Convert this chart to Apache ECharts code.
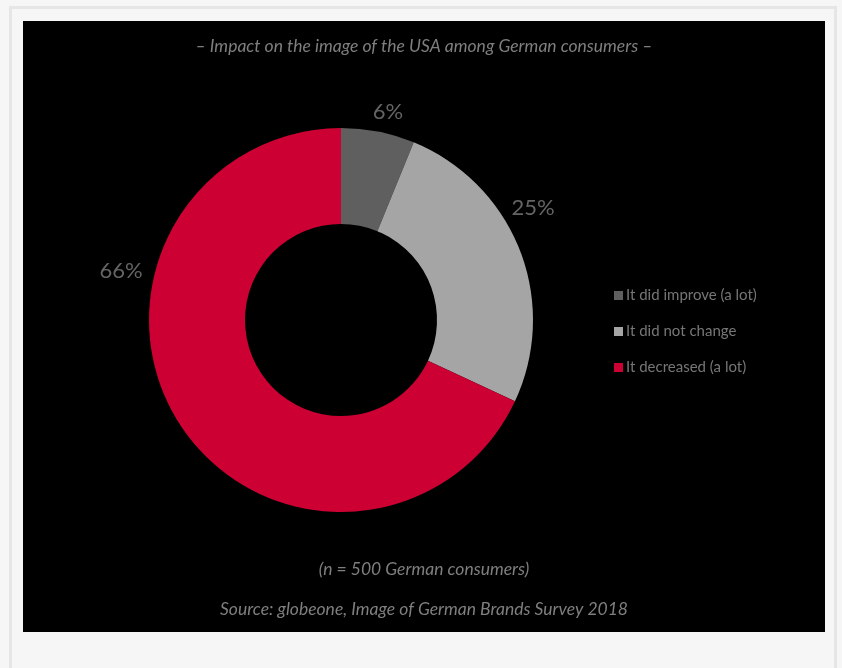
<!DOCTYPE html>
<html>
<head>
<meta charset="utf-8">
<script src="https://cdn.jsdelivr.net/npm/echarts@6/dist/echarts.min.js"></script>
<style>
    html, body { margin: 0; padding: 0; background: #f6f6f6; }
    #frame {
        position: absolute; left: 9px; top: 6px; width: 828px; height: 680px;
        border-left: 3px solid #e6e6e6; border-top: 3px solid #e6e6e6; border-right: 3px solid #e6e6e6;
        box-sizing: border-box;
    }
    #chart {
        position: absolute; left: 23px; top: 21px; width: 802px; height: 611px;
        background: #000;
    }
</style>
</head>
<body>
<div id="frame"></div>
<div id="chart"></div>
<script>
const categories = ['It did improve (a lot)', 'It did not change', 'It decreased (a lot)'];
const shares = [6, 25, 66];
const colors = ['#5f5f5f', '#a5a5a5', '#cc0033'];

const center = [318, 299];
// label placement relative to the pie centre, as in the original
const labelOffsets = [[47, -208], [192, -112], [-220, -49]];

const noteStyle = { color: '#7f7f7f', fontSize: 17.5, fontStyle: 'italic', fontWeight: 'normal', fontFamily: 'Lato' };

let option = {
    backgroundColor: '#000',
    title: [
        {
            text: '\u2013 Impact on the image of the USA among German consumers \u2013',
            left: 'center',
            top: 11,
            textStyle: noteStyle,
        },
        {
            text: '(n = 500 German consumers)',
            left: 'center',
            top: 534,
            textStyle: noteStyle,
        },
        {
            text: 'Source: globeone, Image of German Brands Survey 2018',
            left: 'center',
            top: 574,
            textStyle: noteStyle,
        },
    ],
    legend: {
        orient: 'vertical',
        left: 586,
        top: 262,
        itemWidth: 9,
        itemHeight: 9,
        itemGap: 21,
        icon: 'rect',
        textStyle: { color: '#767676', fontSize: 15, fontFamily: 'Lato', padding: [0, 0, 0, -2] },
        data: categories,
    },
    series: [
        {
            type: 'pie',
            center: center,
            radius: [96, 192],
            startAngle: 90,
            clockwise: true,
            avoidLabelOverlap: false,
            silent: true,
            label: {
                show: true,
                position: 'outside',
                formatter: '{c}%',
                color: '#646464',
                fontSize: 22,
                fontFamily: 'Lato',
            },
            labelLine: { show: false },
            labelLayout: function (params) {
                const o = labelOffsets[params.dataIndex];
                return {
                    x: center[0] + o[0],
                    y: center[1] + o[1],
                    align: 'center',
                    verticalAlign: 'middle',
                };
            },
            itemStyle: { borderWidth: 0 },
            data: categories.map((name, i) => ({
                name: name,
                value: shares[i],
                itemStyle: { color: colors[i] },
            })),
        },
    ],
};

let chart = echarts.init(document.getElementById('chart'));
chart.setOption(option);
</script>
</body>
</html>
